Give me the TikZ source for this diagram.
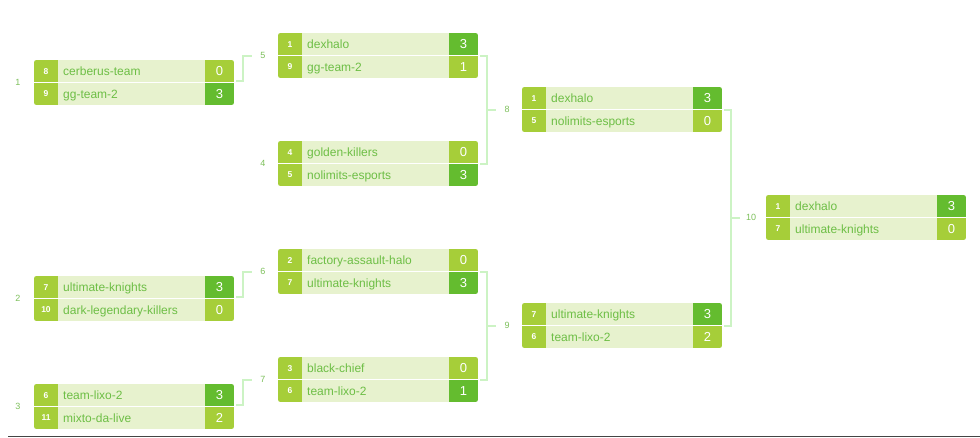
\documentclass[tikz,border=0pt]{standalone}
\usepackage{fontspec}
\setmainfont{Liberation Sans}
\definecolor{seedc}{HTML}{A6CE39}
\definecolor{winc}{HTML}{64BC2F}
\definecolor{losec}{HTML}{A6CE39}
\definecolor{rowc}{HTML}{E7F2CE}
\definecolor{namec}{HTML}{6DBE45}
\definecolor{lblc}{HTML}{7CBF5A}
\definecolor{connc}{HTML}{CCF3C4}
\definecolor{rulec}{HTML}{444444}
\tikzset{
  matchbg/.style={minimum width=200pt, minimum height=45pt, inner sep=0pt, outer sep=0pt, anchor=north west},
  seedtxt/.style={text=white, font=\fontsize{8.5}{8.5}\selectfont\bfseries, inner sep=0pt, text height=6.1pt, text depth=0pt},
  nametxt/.style={text=namec, font=\fontsize{12}{12}\selectfont, inner sep=0pt, anchor=west, text height=9pt, text depth=0pt},
  scoretxt/.style={text=white, font=\fontsize{13}{13}\selectfont, inner sep=0pt, text height=9.3pt, text depth=0pt},
  lbl/.style={text=lblc, font=\fontsize{9}{9}\selectfont, inner sep=0pt, text height=6.4pt, text depth=0pt},
  conn/.style={draw=connc, line width=2pt},
}
% id, top-left, seed1, name1, score1, seed2, name2, score2, winner row
\newcommand\bmatch[9]{%
  \node[matchbg] (#1) at (#2) {};
  \ifnum#9=1 \colorlet{scA}{winc}\colorlet{scB}{losec}\else\colorlet{scA}{losec}\colorlet{scB}{winc}\fi
  \begin{scope}
    \clip[rounded corners=2.5pt] (#1.north west) rectangle (#1.south east);
    \fill[rowc] (#1.north west) rectangle (#1.south east);
    \fill[seedc] (#1.north west) rectangle ([xshift=24pt]#1.south west);
    \fill[scA] ([xshift=-29pt]#1.north east) rectangle (#1.east);
    \fill[scB] ([xshift=-29pt]#1.east) rectangle (#1.south east);
  \end{scope}
  \draw[white, line width=1pt] (#1.west) -- (#1.east);
  \node[seedtxt] (#1s1) at ([xshift=12pt, yshift=11.25pt]#1.west) {#3};
  \node[nametxt] (#1n1) at ([xshift=29pt, yshift=11.25pt]#1.west) {#4};
  \node[scoretxt] (#1c1) at ([xshift=-14.5pt, yshift=11.25pt]#1.east) {#5};
  \node[seedtxt] (#1s2) at ([xshift=12pt, yshift=-11.25pt]#1.west) {#6};
  \node[nametxt] (#1n2) at ([xshift=29pt, yshift=-11.25pt]#1.west) {#7};
  \node[scoretxt] (#1c2) at ([xshift=-14.5pt, yshift=-11.25pt]#1.east) {#8};
}
\begin{document}
\begin{tikzpicture}[x=1pt, y=-1pt]
\useasboundingbox (0,0) rectangle (980,437);
% column 1
\bmatch{m1}{34,60}{8}{cerberus-team}{0}{9}{gg-team-2}{3}{2}
\bmatch{m2}{34,276}{7}{ultimate-knights}{3}{10}{dark-legendary-killers}{0}{1}
\bmatch{m3}{34,384}{6}{team-lixo-2}{3}{11}{mixto-da-live}{2}{1}
% column 2
\bmatch{m5}{278,33}{1}{dexhalo}{3}{9}{gg-team-2}{1}{1}
\bmatch{m4}{278,141}{4}{golden-killers}{0}{5}{nolimits-esports}{3}{2}
\bmatch{m6}{278,249}{2}{factory-assault-halo}{0}{7}{ultimate-knights}{3}{2}
\bmatch{m7}{278,357}{3}{black-chief}{0}{6}{team-lixo-2}{1}{2}
% column 3
\bmatch{m8}{522,87}{1}{dexhalo}{3}{5}{nolimits-esports}{0}{1}
\bmatch{m9}{522,303}{7}{ultimate-knights}{3}{6}{team-lixo-2}{2}{1}
% column 4
\bmatch{m10}{766,195}{1}{dexhalo}{3}{7}{ultimate-knights}{0}{1}
% labels
\node[lbl] (l1) at ([xshift=-16pt]m1.west) {1};
\node[lbl] (l2) at ([xshift=-16pt]m2.west) {2};
\node[lbl] (l3) at ([xshift=-16pt]m3.west) {3};
\node[lbl] (l5) at ([xshift=-15pt]m5.west) {5};
\node[lbl] (l4) at ([xshift=-15pt]m4.west) {4};
\node[lbl] (l6) at ([xshift=-15pt]m6.west) {6};
\node[lbl] (l7) at ([xshift=-15pt]m7.west) {7};
\node[lbl] (l8) at ([xshift=-15pt]m8.west) {8};
\node[lbl] (l9) at ([xshift=-15pt]m9.west) {9};
\node[lbl] (l10) at ([xshift=-15pt]m10.west) {10};
% connectors column 1 -> 2
\draw[conn] ([xshift=2pt, yshift=1.5pt]m1.east) -- ([xshift=9pt, yshift=1.5pt]m1.east) |- ([xshift=-26pt]m5.west);
\draw[conn] ([xshift=2pt, yshift=1.5pt]m2.east) -- ([xshift=9pt, yshift=1.5pt]m2.east) |- ([xshift=-26pt]m6.west);
\draw[conn] ([xshift=2pt, yshift=1.5pt]m3.east) -- ([xshift=9pt, yshift=1.5pt]m3.east) |- ([xshift=-26pt]m7.west);
% connectors column 2 -> 3
\coordinate (v8) at ([xshift=9pt]m5.east);
\draw[conn] ([xshift=2pt]m5.east) -- (v8) -- (v8 |- m4.east) -- ([xshift=2pt]m4.east);
\draw[conn] (v8 |- m8.west) -- ([xshift=-26pt]m8.west);
\coordinate (v9) at ([xshift=9pt]m6.east);
\draw[conn] ([xshift=2pt]m6.east) -- (v9) -- (v9 |- m7.east) -- ([xshift=2pt]m7.east);
\draw[conn] (v9 |- m9.west) -- ([xshift=-26pt]m9.west);
% connectors column 3 -> 4
\coordinate (v10) at ([xshift=9pt]m8.east);
\draw[conn] ([xshift=2pt]m8.east) -- (v10) -- (v10 |- m9.east) -- ([xshift=2pt]m9.east);
\draw[conn] (v10 |- m10.west) -- ([xshift=-26pt]m10.west);
% bottom rule
\draw[rulec, line width=1pt] (8,436.5) -- (980,436.5);
\end{tikzpicture}
\end{document}
